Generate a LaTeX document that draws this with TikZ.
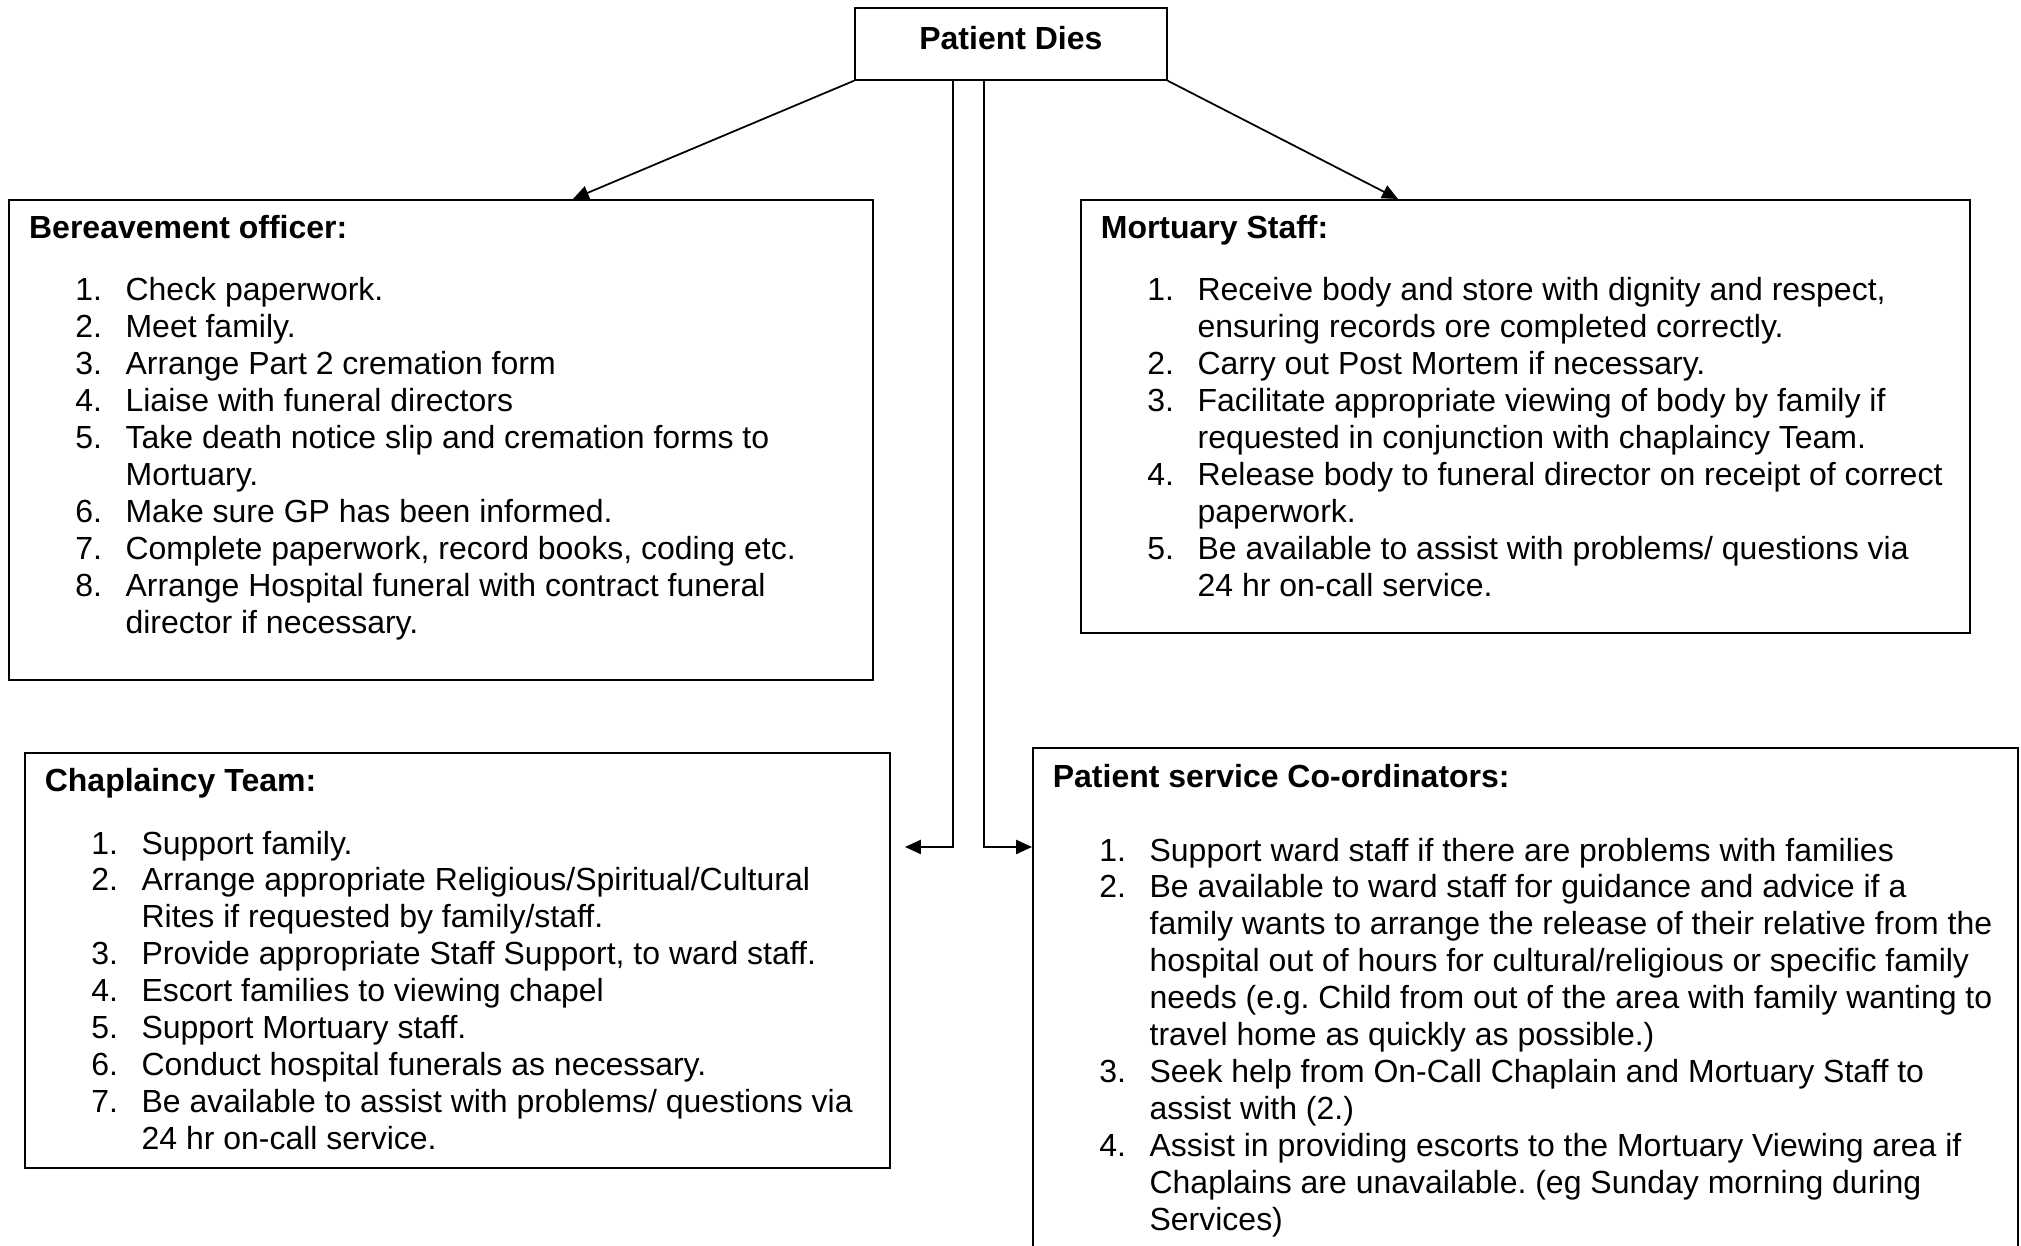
\documentclass[tikz,border=0pt]{standalone}
\usepackage{fontspec}
\setmainfont{Liberation Sans}
\usetikzlibrary{arrows.meta}
\frenchspacing
\newcommand{\itemno}[1]{\makebox[28.6pt][l]{#1.}}
\newcommand{\itemgap}{\hspace*{28.6pt}}

\begin{document}
\begin{tikzpicture}[scale=0.2,
  box/.style={draw=black, line width=1pt, inner sep=0pt, anchor=north west},
  boxtitle/.style={anchor=base west, inner sep=0pt, font=\fontsize{18.2}{21}\selectfont\bfseries},
  boxlist/.style={anchor=base west, inner sep=0pt, font=\fontsize{18.2}{21}\selectfont},
  arr/.style={line width=1pt, -{Triangle[length=9pt,width=8pt]}}]
\clip (0,0) rectangle (202.1,-124.6);
% top box
\node [box, minimum width=6.24cm, minimum height=1.44cm, font=\fontsize{18.2}{21}\selectfont\bfseries] (dies) at (85.4,-0.7) {\raisebox{7pt}{Patient Dies}};
% the four boxes
\node [box, minimum width=17.27cm, minimum height=9.59cm] (bereave) at (0.83,-19.93) {};
\node [box, minimum width=17.78cm, minimum height=8.66cm] (mortuary) at (108.0,-19.9) {};
\node [box, minimum width=17.30cm, minimum height=8.30cm] (chaplain) at (2.4,-75.2) {};
\node [box, minimum width=19.70cm, minimum height=11.06cm] (coord) at (103.2,-74.7) {};
% texts
\node [boxtitle] (bereavetitle) at (2.88,-23.9) {Bereavement officer:};
\node [boxlist] (bereavelist) at (7.5,-30.1) {\begin{tabular}[t]{@{}l@{}}
\itemno{1}Check paperwork.\\
\itemno{2}Meet family.\\
\itemno{3}Arrange Part 2 cremation form\\
\itemno{4}Liaise with funeral directors\\
\itemno{5}Take death notice slip and cremation forms to\\
\itemgap Mortuary.\\
\itemno{6}Make sure GP has been informed.\\
\itemno{7}Complete paperwork, record books, coding etc.\\
\itemno{8}Arrange Hospital funeral with contract funeral\\
\itemgap director if necessary.
\end{tabular}};
\node [boxtitle] (mortuarytitle) at (110.05,-23.9) {Mortuary Staff:};
\node [boxlist] (mortuarylist) at (114.7,-30.1) {\begin{tabular}[t]{@{}l@{}}
\itemno{1}Receive body and store with dignity and respect,\\
\itemgap ensuring records ore completed correctly.\\
\itemno{2}Carry out Post Mortem if necessary.\\
\itemno{3}Facilitate appropriate viewing of body by family if\\
\itemgap requested in conjunction with chaplaincy Team.\\
\itemno{4}Release body to funeral director on receipt of correct\\
\itemgap paperwork.\\
\itemno{5}Be available to assist with problems/ questions via\\
\itemgap 24 hr on-call service.
\end{tabular}};
\node [boxtitle] (chaplaintitle) at (4.45,-79.1) {Chaplaincy Team:};
\node [boxlist] (chaplainlist) at (9.1,-85.4) {\begin{tabular}[t]{@{}l@{}}
\itemno{1}Support family.\\
\itemno{2}Arrange appropriate Religious/Spiritual/Cultural\\
\itemgap Rites if requested by family/staff.\\
\itemno{3}Provide appropriate Staff Support, to ward staff.\\
\itemno{4}Escort families to viewing chapel\\
\itemno{5}Support Mortuary staff.\\
\itemno{6}Conduct hospital funerals as necessary.\\
\itemno{7}Be available to assist with problems/ questions via\\
\itemgap 24 hr on-call service.
\end{tabular}};
\node [boxtitle] (coordtitle) at (105.25,-78.7) {Patient service Co-ordinators:};
\node [boxlist] (coordlist) at (109.9,-86.1) {\begin{tabular}[t]{@{}l@{}}
\itemno{1}Support ward staff if there are problems with families\\
\itemno{2}Be available to ward staff for guidance and advice if a\\
\itemgap family wants to arrange the release of their relative from the\\
\itemgap hospital out of hours for cultural/religious or specific family\\
\itemgap needs (e.g. Child from out of the area with family wanting to\\
\itemgap travel home as quickly as possible.)\\
\itemno{3}Seek help from On-Call Chaplain and Mortuary Staff to\\
\itemgap assist with (2.)\\
\itemno{4}Assist in providing escorts to the Mortuary Viewing area if\\
\itemgap Chaplains are unavailable. (eg Sunday morning during\\
\itemgap Services)
\end{tabular}};
% arrows
\coordinate (btip) at (57.3,-19.9);
\coordinate (mtip) at (139.8,-19.9);
\coordinate (splitl) at (95.3,-84.7);
\coordinate (splitr) at (98.4,-84.7);
\coordinate (ltip) at (90.5,-84.7);
\draw [arr] (dies.south west) -- (btip);
\draw [arr] (dies.south east) -- (mtip);
\draw [arr] (dies.south -| splitl) -- (splitl) -- (ltip);
\draw [arr] (dies.south -| splitr) -- (splitr) -- (coord.west |- splitr);
\end{tikzpicture}
\end{document}
